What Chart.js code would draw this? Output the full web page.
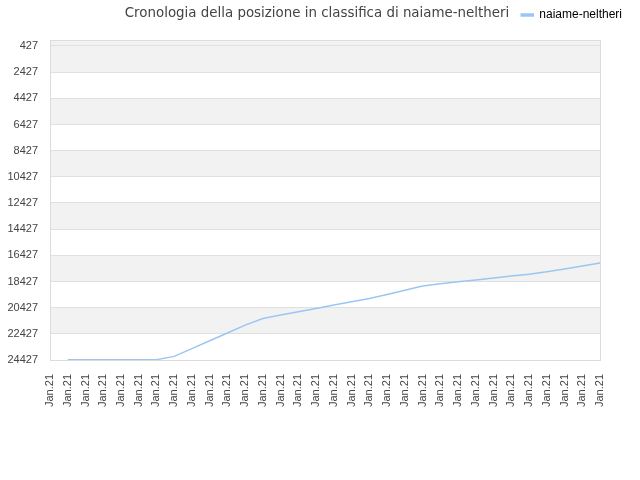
<!DOCTYPE html>
<html>
<head>
<meta charset="utf-8">
<script src="https://cdn.jsdelivr.net/npm/chart.js@4/dist/chart.umd.min.js"></script>
<style>
  html, body { margin: 0; padding: 0; background: #fff; }
  #wrap { width: 640px; height: 480px; }
</style>
</head>
<body>
<div id="wrap"><canvas id="grafico" width="640" height="480"></canvas></div>
<script>
// === Dati ===
const titolo = "Cronologia della posizione in classifica di naiame-neltheri";
const nomeSerie = "naiame-neltheri";
const etichette = Array(32).fill("Jan.21");
const posizioni = [
  null, 24400, 24400, 24400, 24400, 24400, 24400, 24152,
  23556, 22960, 22363, 21760, 21255, 20995, 20743, 20491,
  20231, 19979, 19727, 19421, 19100, 18779, 18595, 18450,
  18305, 18160, 18014, 17869, 17678, 17464, 17243, 17021
];
const tickY = [427, 2427, 4427, 6427, 8427, 10427, 12427, 14427, 16427, 18427, 20427, 22427, 24427];

const fontTitolo = "'DejaVu Sans', sans-serif";
const fontAssi = "'Liberation Sans', Arial, sans-serif";

// === Bande alternate, bordo dell'area e titolo ===
const bande = {
  id: "bande",
  beforeDraw(chart) {
    const { ctx, chartArea, scales } = chart;
    const y = scales.y;
    ctx.save();
    ctx.fillStyle = "#f2f2f2";
    for (let i = 0; i < tickY.length - 1; i += 2) {
      let y1 = y.getPixelForValue(tickY[i]);
      const y2 = y.getPixelForValue(tickY[i + 1]);
      if (i === 0) y1 = chartArea.top;
      ctx.fillRect(chartArea.left, y1, chartArea.right - chartArea.left, y2 - y1);
    }
    ctx.restore();
  },
  afterDraw(chart) {
    const { ctx, chartArea } = chart;
    ctx.save();
    ctx.strokeStyle = "#dcdcdc";
    ctx.lineWidth = 1;
    ctx.strokeRect(Math.round(chartArea.left) + 0.5, Math.round(chartArea.top) + 0.5,
      Math.round(chartArea.right - chartArea.left), Math.round(chartArea.bottom - chartArea.top));
    ctx.fillStyle = "#444";
    ctx.font = "13.4px " + fontTitolo;
    ctx.textAlign = "center";
    ctx.textBaseline = "middle";
    ctx.fillText(titolo, 317, 14);
    ctx.restore();
  }
};

new Chart(document.getElementById("grafico").getContext("2d"), {
  type: "line",
  data: {
    labels: etichette,
    datasets: [{
      label: nomeSerie,
      data: posizioni,
      borderColor: "#9bc6f3",
      backgroundColor: "#9bc6f3",
      borderWidth: 1.5,
      pointRadius: 0,
      tension: 0,
      fill: false,
    }],
  },
  options: {
    responsive: false,
    animation: false,
    layout: { padding: { top: 1, right: 10, left: 0, bottom: 0 } },
    plugins: {
      title: { display: false },
      tooltip: { enabled: false },
      legend: {
        display: true,
        position: "top",
        align: "end",
        labels: {
          boxWidth: 12,
          boxHeight: 2,
          padding: 8,
          color: "#000",
          font: { family: fontAssi, size: 12 },
        },
      },
    },
    scales: {
      x: {
        grid: { display: false },
        border: { display: false },
        ticks: {
          autoSkip: false,
          minRotation: 90,
          maxRotation: 90,
          padding: 6,
          color: "#444",
          font: { family: fontAssi, size: 11 },
        },
        afterFit: (s) => { s.height = 120; },
      },
      spazio: {
        type: "linear",
        position: "top",
        display: true,
        grid: { display: false },
        border: { display: false },
        ticks: { display: false },
        afterFit: (s) => { s.height = 9; },
      },
      y: {
        reverse: true,
        min: -30,
        max: 24427,
        afterBuildTicks: (s) => { s.ticks = tickY.map((v) => ({ value: v })); },
        grid: { color: "#e0e0e0", drawTicks: false },
        border: { display: false },
        ticks: {
          padding: 12,
          color: "#444",
          font: { family: fontAssi, size: 11 },
          callback: (v) => String(v),
        },
        afterFit: (s) => { s.width = 50; },
      },
      destra: {
        type: "linear",
        position: "right",
        display: true,
        grid: { display: false },
        border: { display: false },
        ticks: { display: false },
        afterFit: (s) => { s.width = 30; },
      },
    },
  },
  plugins: [bande],
});
</script>
</body>
</html>
